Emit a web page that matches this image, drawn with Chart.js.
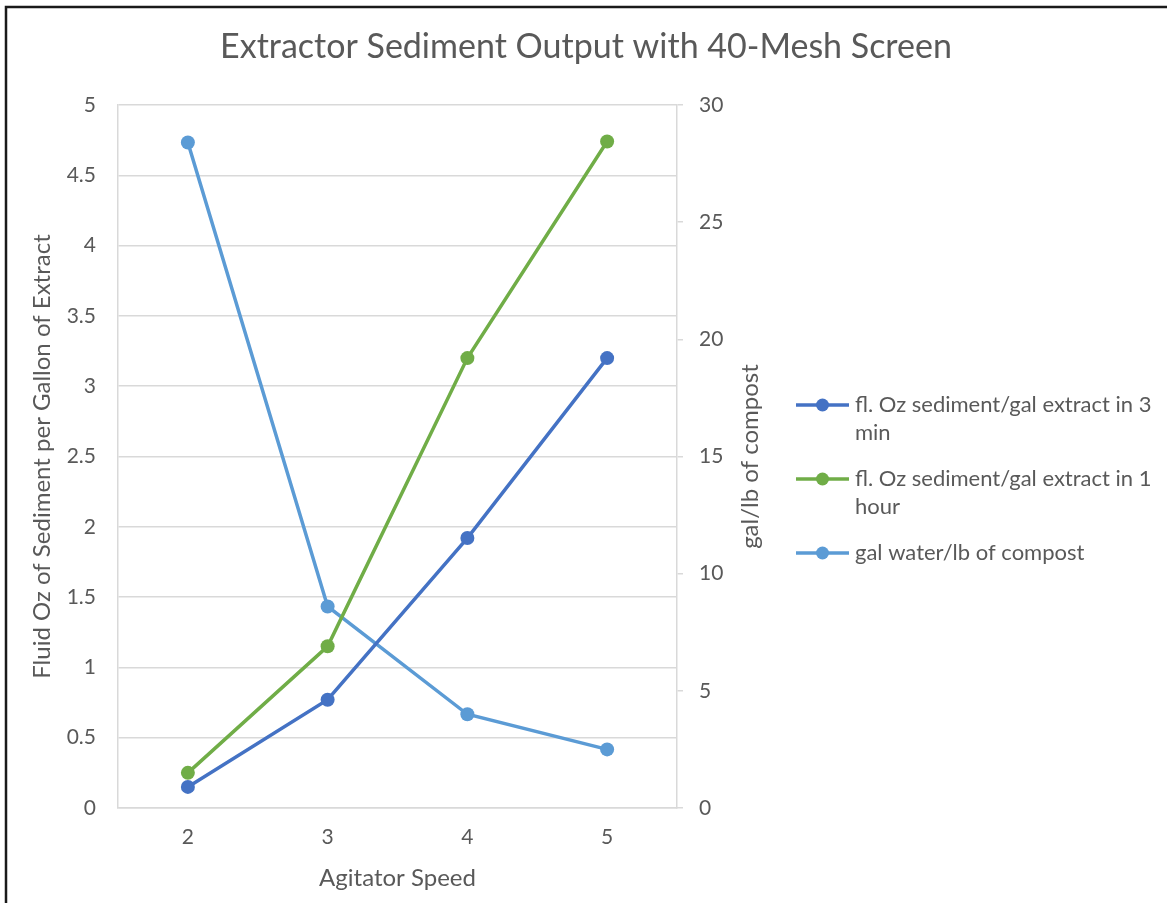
<!DOCTYPE html>
<html>
<head>
<meta charset="utf-8">
<script src="https://cdn.jsdelivr.net/npm/chart.js@4.4.1/dist/chart.umd.min.js"></script>
<style>
  html, body { margin: 0; padding: 0; background: #fff; }
  #wrap { position: relative; width: 1167px; height: 903px; }
</style>
</head>
<body>
<div id="wrap"><canvas id="c" width="1167" height="903"></canvas></div>
<script>
const categories = ['2', '3', '4', '5'];
const seriesNames = [
  'fl. Oz sediment/gal extract in 3 min',
  'fl. Oz sediment/gal extract in 1 hour',
  'gal water/lb of compost'
];
const sediment3min = [0.15, 0.77, 1.92, 3.2];
const sediment1hour = [0.25, 1.15, 3.2, 4.74];
const galWaterPerLb = [28.4, 8.6, 4.0, 2.5];
const leftTicks = [0, 0.5, 1, 1.5, 2, 2.5, 3, 3.5, 4, 4.5, 5];
const leftTickLabels = ['0', '0.5', '1', '1.5', '2', '2.5', '3', '3.5', '4', '4.5', '5'];
const rightTicks = [0, 5, 10, 15, 20, 25, 30];
const rightTickLabels = ['0', '5', '10', '15', '20', '25', '30'];
const titleText = 'Extractor Sediment Output with 40-Mesh Screen';
const xTitle = 'Agitator Speed';
const yLeftTitle = 'Fluid Oz of Sediment per Gallon of Extract';
const yRightTitle = 'gal/lb of compost';

const FONT = 'Lato, "Open Sans", sans-serif';
const TEXT = '#595959';
const GRID = '#d9d9d9';
const colors = ['#4472C4', '#70AD47', '#5B9BD5'];

const framePlugin = {
  id: 'frame',
  afterDraw(chart) {
    const ctx = chart.ctx;
    const area = chart.chartArea;
    ctx.save();
    ctx.strokeStyle = '#1a1a1a';
    ctx.lineWidth = 2.5;
    ctx.strokeRect(6, 7, 1200, 1000);
    // chart title
    ctx.fillStyle = TEXT;
    ctx.font = '34px ' + FONT;
    ctx.textAlign = 'center';
    ctx.textBaseline = 'middle';
    ctx.fillText(titleText, 586, 47);
    // secondary axis title, reading bottom to top
    ctx.font = '24px ' + FONT;
    ctx.translate(750, (area.top + area.bottom) / 2);
    ctx.rotate(-Math.PI / 2);
    ctx.fillText(yRightTitle, 0, 0);
    ctx.restore();
  }
};

const legendPlugin = {
  id: 'customLegend',
  afterDraw(chart) {
    const ctx = chart.ctx;
    ctx.save();
    ctx.font = '22px ' + FONT;
    ctx.textBaseline = 'middle';
    ctx.textAlign = 'left';
    const maxW = 305;
    let y = 405;
    chart.data.datasets.forEach((ds) => {
      const words = ds.label.split(' ');
      const lines = [];
      let cur = '';
      words.forEach(w => {
        const t = cur ? cur + ' ' + w : w;
        if (ctx.measureText(t).width > maxW && cur) { lines.push(cur); cur = w; }
        else cur = t;
      });
      if (cur) lines.push(cur);
      ctx.strokeStyle = ds.borderColor;
      ctx.lineWidth = 3.5;
      ctx.beginPath();
      ctx.moveTo(796, y);
      ctx.lineTo(849, y);
      ctx.stroke();
      ctx.fillStyle = ds.borderColor;
      ctx.beginPath();
      ctx.arc(822.5, y, 6.5, 0, Math.PI * 2);
      ctx.fill();
      ctx.fillStyle = TEXT;
      lines.forEach((ln, i) => ctx.fillText(ln, 855, y + i * 28));
      y += (lines.length - 1) * 28 + 46;
    });
    ctx.restore();
  }
};

const makeDs = (label, data, color, axis) => ({
  label, data, yAxisID: axis,
  borderColor: color, backgroundColor: color,
  borderWidth: 3.5, pointRadius: 7, pointHoverRadius: 7,
  pointBackgroundColor: color, pointBorderColor: color, pointBorderWidth: 0,
  tension: 0, fill: false
});

new Chart(document.getElementById('c'), {
  type: 'line',
  data: {
    labels: categories,
    datasets: [
      makeDs(seriesNames[0], sediment3min, colors[0], 'y'),
      makeDs(seriesNames[1], sediment1hour, colors[1], 'y'),
      makeDs(seriesNames[2], galWaterPerLb, colors[2], 'y1')
    ]
  },
  options: {
    responsive: false,
    animation: false,
    events: [],
    layout: { padding: { left: 0, right: 400, top: 105, bottom: 0 } },
    plugins: {
      legend: { display: false },
      tooltip: { enabled: false },
      title: { display: false }
    },
    scales: {
      x: {
        offset: true,
        grid: { display: false, drawTicks: false },
        border: { display: true, color: GRID, width: 1.5 },
        ticks: { color: TEXT, font: { family: FONT, size: 21 }, padding: 17 },
        title: { display: true, text: xTitle, color: TEXT, font: { family: FONT, size: 24 }, padding: { top: 0, bottom: 10.5 } },
        afterFit(s) { s.height = 95; }
      },
      y: {
        position: 'left', min: 0, max: 5,
        afterBuildTicks(s) { s.ticks = leftTicks.map(v => ({ value: v })); },
        grid: { color: GRID, lineWidth: 1.5, drawTicks: false },
        border: { display: true, color: GRID, width: 1.5 },
        ticks: { color: TEXT, font: { family: FONT, size: 21 }, padding: 22,
                 callback: (v, i) => leftTickLabels[i] },
        title: { display: true, text: yLeftTitle, color: TEXT, font: { family: FONT, size: 24 }, padding: { top: 27.5 } },
        afterFit(s) { s.width = 118; }
      },
      y1: {
        position: 'right', min: 0, max: 30,
        afterBuildTicks(s) { s.ticks = rightTicks.map(v => ({ value: v })); },
        grid: { drawOnChartArea: false, color: GRID, lineWidth: 1.5, tickLength: 6 },
        border: { display: true, color: GRID, width: 1.5 },
        ticks: { color: TEXT, font: { family: FONT, size: 21 }, padding: 16,
                 callback: (v, i) => rightTickLabels[i] },
        title: { display: false },
        afterFit(s) { s.width = 90; }
      }
    }
  },
  plugins: [framePlugin, legendPlugin]
});
</script>
</body>
</html>
